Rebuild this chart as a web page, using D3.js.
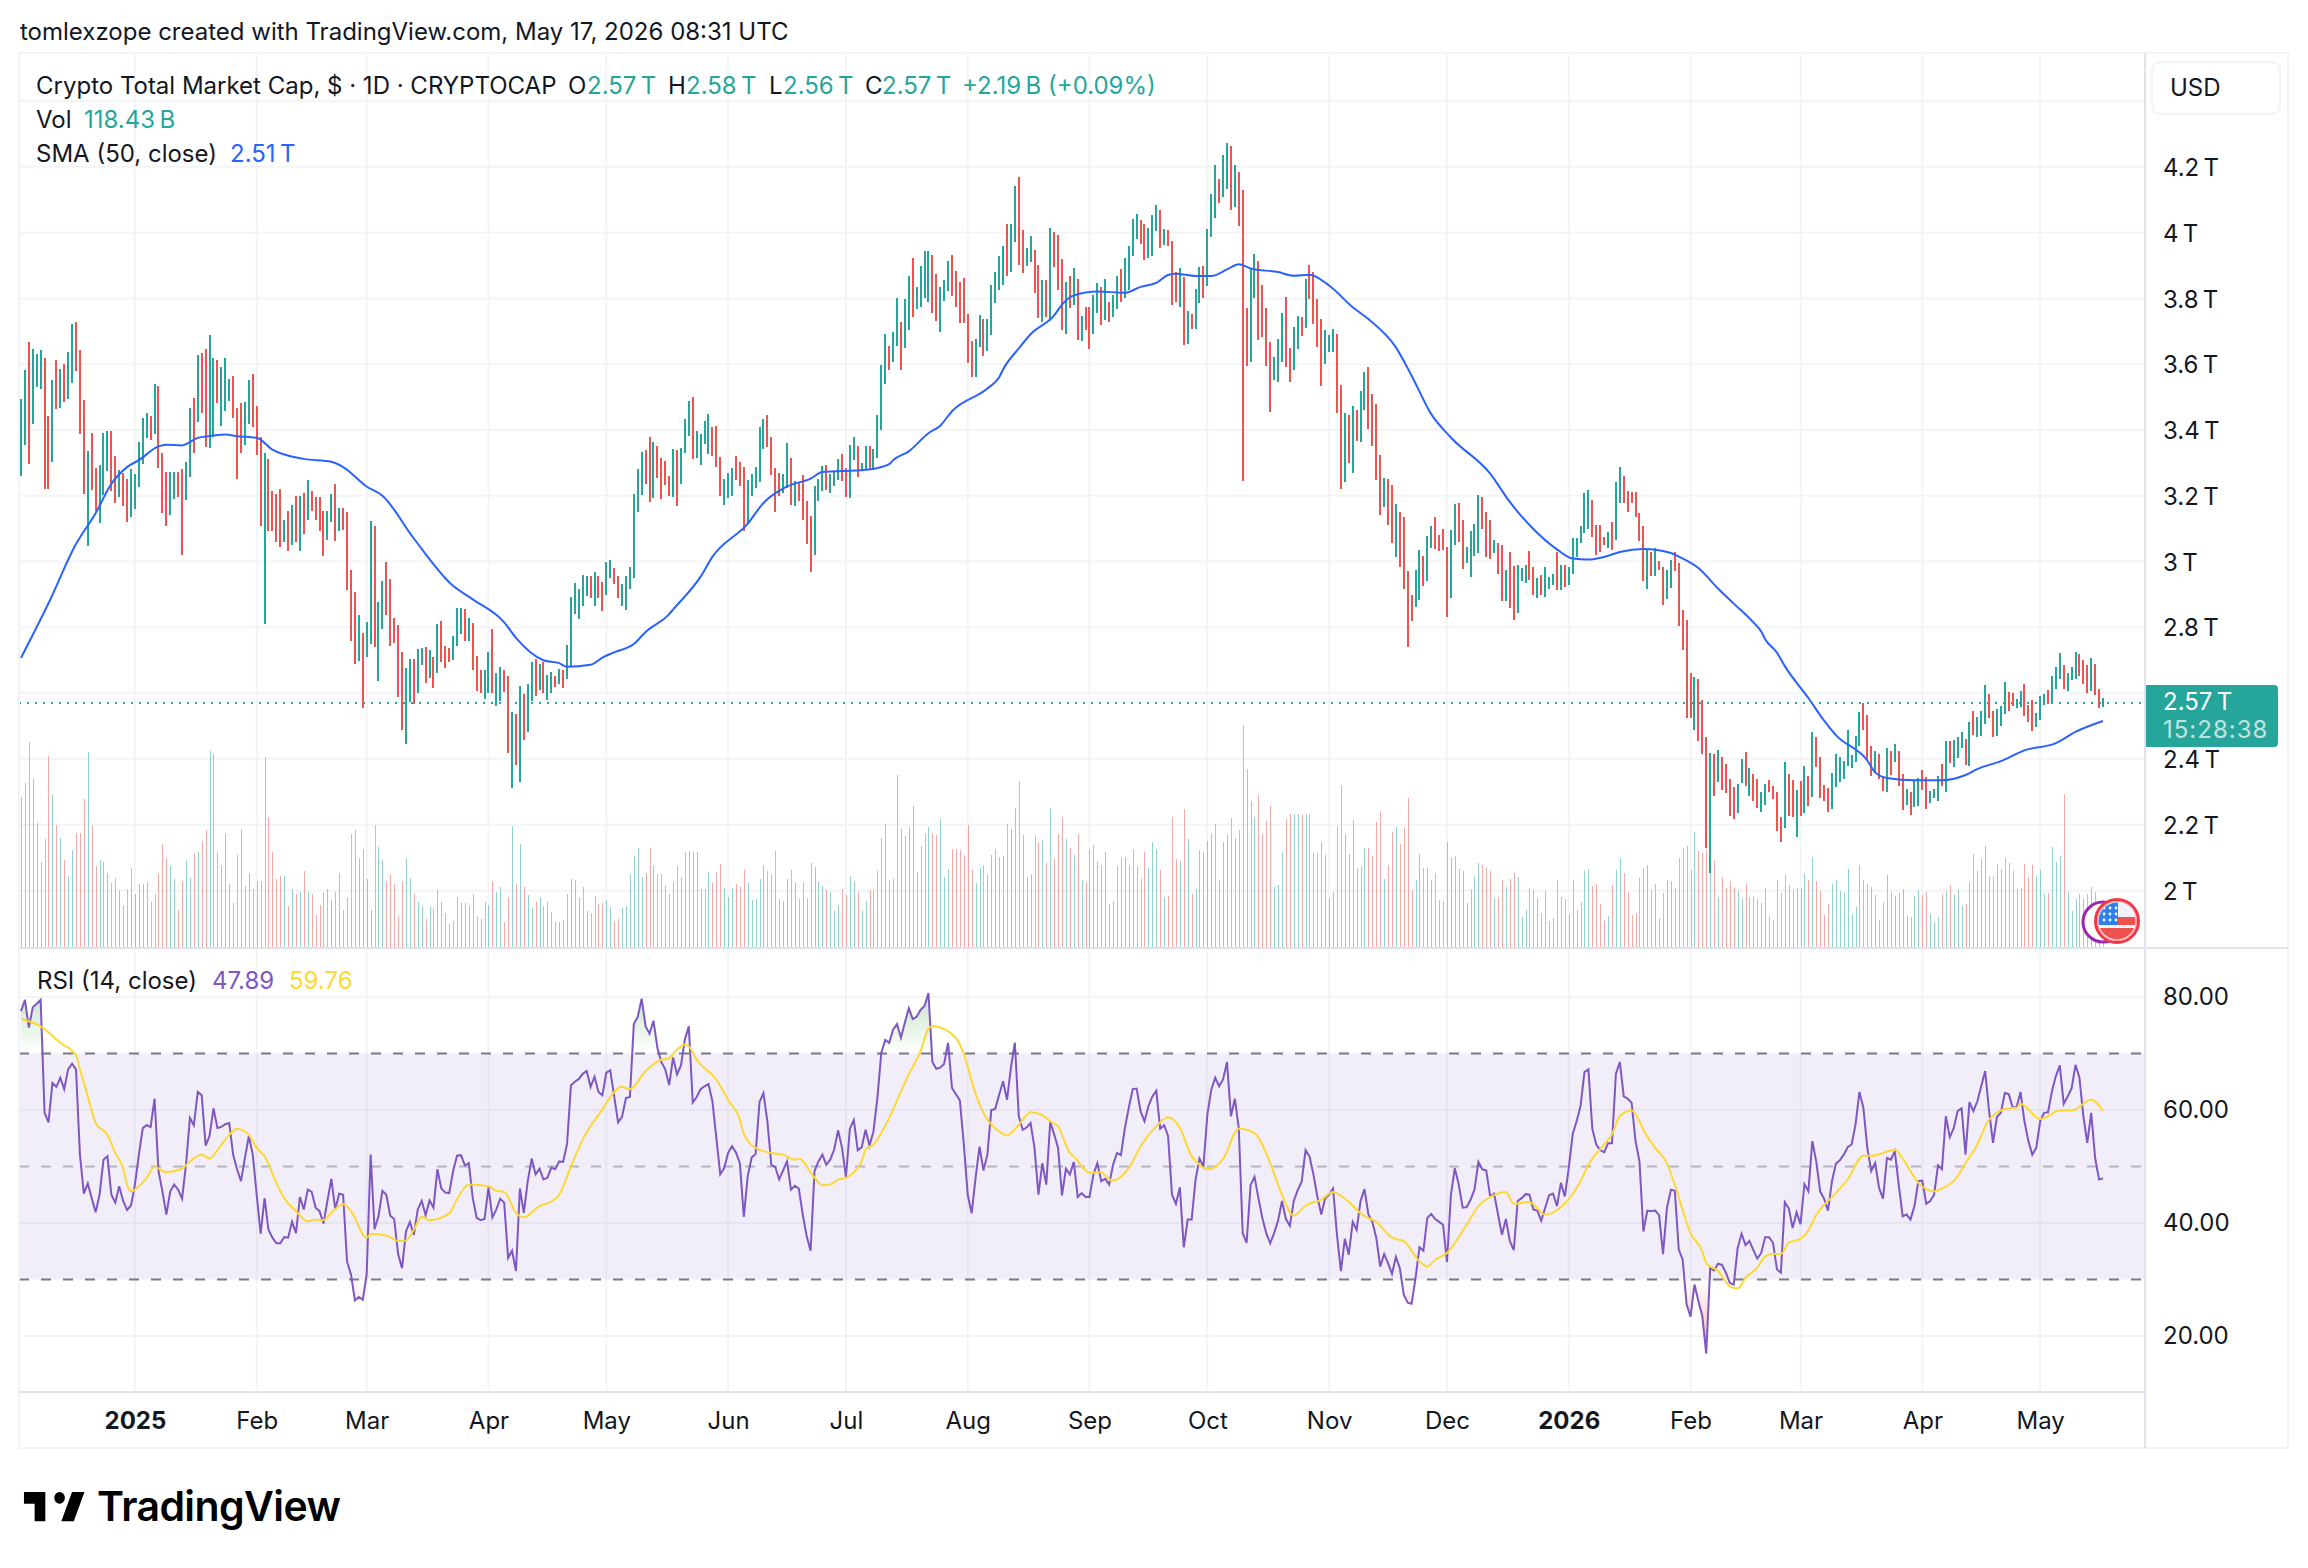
<!DOCTYPE html>
<html>
  <head>
    <meta charset="utf-8">
    <script src="https://d3js.org/d3.v7.min.js"></script>
    <title>Crypto Total Market Cap</title>
    <style>
      body { margin: 0px; background: #fff; }
      text { font-family: Inter, "Noto Sans", sans-serif; fill: #131722; }
    </style>
  </head>
  <body>
    <svg width="2308" height="1568"></svg>
    <script>
      // daily bars, first one is 2024-12-03, values in trillions
      const highs = [
        3.493,3.582,3.666,3.646,3.631,3.642,3.618,3.442,3.552,3.614,
        3.586,3.601,3.636,3.722,3.727,3.643,3.490,3.335,3.392,3.285,
        3.294,3.392,3.397,3.397,3.320,3.279,3.268,3.252,3.280,3.265,
        3.364,3.437,3.450,3.443,3.540,3.534,3.331,3.271,3.271,3.271,
        3.271,3.280,3.304,3.468,3.498,3.628,3.633,3.646,3.688,3.619,
        3.613,3.591,3.619,3.555,3.564,3.468,3.483,3.485,3.552,3.571,
        3.474,3.378,3.329,3.313,3.213,3.204,3.219,3.126,3.155,3.171,
        3.199,3.199,3.208,3.247,3.213,3.197,3.195,3.155,3.153,3.204,
        3.237,3.162,3.162,3.150,2.974,2.908,2.836,2.783,2.817,3.122,
        3.107,2.878,2.941,2.999,2.946,2.829,2.808,2.726,2.675,2.704,
        2.704,2.735,2.737,2.741,2.732,2.711,2.810,2.820,2.744,2.737,
        2.774,2.860,2.860,2.856,2.829,2.814,2.713,2.671,2.671,2.726,
        2.796,2.660,2.680,2.669,2.651,2.544,2.535,2.623,2.597,2.627,
        2.696,2.704,2.689,2.693,2.656,2.663,2.653,2.672,2.669,2.747,
        2.893,2.934,2.915,2.959,2.956,2.956,2.967,2.957,2.938,2.999,
        3.006,2.979,2.957,2.932,2.957,2.982,3.206,3.281,3.333,3.340,
        3.379,3.363,3.352,3.314,3.307,3.261,3.343,3.340,3.346,3.433,
        3.488,3.501,3.396,3.388,3.426,3.449,3.408,3.412,3.317,3.252,
        3.269,3.285,3.321,3.303,3.288,3.249,3.267,3.288,3.408,3.433,
        3.446,3.379,3.285,3.269,3.267,3.361,3.314,3.245,3.241,3.264,
        3.184,3.139,3.230,3.252,3.291,3.294,3.267,3.272,3.313,3.327,
        3.285,3.355,3.379,3.352,3.300,3.352,3.352,3.343,3.446,3.598,
        3.692,3.654,3.697,3.800,3.728,3.797,3.868,3.922,3.836,3.897,
        3.943,3.943,3.933,3.874,3.836,3.855,3.913,3.933,3.882,3.849,
        3.861,3.752,3.670,3.676,3.748,3.737,3.737,3.842,3.880,3.930,
        3.958,4.027,4.027,4.143,4.170,4.007,3.952,3.991,3.946,3.900,
        3.855,3.855,4.013,4.001,3.993,3.919,3.850,3.869,3.893,3.860,
        3.745,3.774,3.774,3.810,3.846,3.835,3.858,3.788,3.810,3.868,
        3.888,3.922,3.958,4.040,4.056,4.037,4.027,4.013,4.052,4.085,
        4.068,4.010,4.007,3.974,3.880,3.891,3.864,3.761,3.752,3.828,
        3.894,3.897,4.010,4.118,4.204,4.162,4.237,4.273,4.264,4.204,
        4.183,4.128,3.770,3.891,3.936,3.913,3.842,3.770,3.667,3.622,
        3.676,3.755,3.803,3.648,3.712,3.745,3.742,3.858,3.902,3.879,
        3.797,3.737,3.703,3.689,3.706,3.692,3.537,3.452,3.446,3.473,
        3.460,3.518,3.576,3.592,3.509,3.479,3.324,3.255,3.252,3.233,
        3.175,3.151,3.136,2.970,2.899,2.973,3.035,3.018,3.078,3.109,
        3.136,3.081,3.100,3.045,3.097,3.175,3.178,3.126,3.045,3.093,
        3.115,3.203,3.197,3.151,3.126,3.064,3.057,3.051,2.973,3.028,
        2.987,2.990,2.979,2.990,3.032,2.984,2.951,2.960,2.984,2.954,
        2.963,3.028,2.990,2.990,2.984,3.070,3.073,3.109,3.209,3.216,
        3.187,3.112,3.112,3.076,3.091,3.121,3.243,3.288,3.261,3.215,
        3.212,3.212,3.149,3.109,3.035,3.028,3.042,3.003,2.984,2.975,
        3.006,3.030,2.995,2.854,2.821,2.661,2.648,2.642,2.578,2.466,
        2.417,2.414,2.427,2.405,2.384,2.339,2.315,2.325,2.399,2.421,
        2.371,2.354,2.339,2.298,2.323,2.337,2.319,2.300,2.224,2.390,
        2.354,2.337,2.305,2.332,2.378,2.348,2.481,2.467,2.405,2.320,
        2.311,2.357,2.414,2.405,2.394,2.487,2.411,2.469,2.544,2.569,
        2.532,2.439,2.424,2.414,2.344,2.434,2.424,2.444,2.424,2.354,
        2.308,2.298,2.335,2.342,2.366,2.346,2.303,2.308,2.348,2.384,
        2.453,2.455,2.457,2.466,2.481,2.461,2.512,2.545,2.526,2.547,
        2.624,2.596,2.547,2.551,2.561,2.633,2.602,2.600,2.581,2.607,
        2.627,2.563,2.578,2.539,2.590,2.598,2.610,2.651,2.678,2.721,
        2.685,2.661,2.678,2.724,2.718,2.700,2.685,2.706,2.687,2.613,
        2.584
      ];
      const lows = [
        3.261,3.353,3.297,3.419,3.531,3.525,3.220,3.220,3.302,3.465,
        3.468,3.484,3.494,3.544,3.580,3.389,3.205,3.048,3.217,3.153,
        3.117,3.201,3.276,3.213,3.178,3.195,3.168,3.121,3.135,3.160,
        3.228,3.297,3.377,3.368,3.389,3.283,3.147,3.107,3.140,3.189,
        3.195,3.019,3.186,3.256,3.331,3.425,3.452,3.347,3.344,3.378,
        3.483,3.413,3.457,3.489,3.437,3.250,3.331,3.353,3.417,3.410,
        3.324,3.107,2.810,3.092,3.093,3.059,3.043,3.059,3.032,3.050,
        3.059,3.032,3.083,3.126,3.155,3.126,3.092,3.017,3.065,3.120,
        3.062,3.092,3.096,2.913,2.759,2.687,2.699,2.554,2.711,2.750,
        2.741,2.636,2.796,2.838,2.744,2.753,2.587,2.487,2.444,2.574,
        2.567,2.600,2.684,2.632,2.647,2.614,2.661,2.694,2.677,2.695,
        2.701,2.744,2.781,2.759,2.759,2.671,2.605,2.599,2.583,2.599,
        2.599,2.561,2.577,2.602,2.418,2.312,2.382,2.331,2.457,2.481,
        2.577,2.590,2.608,2.599,2.578,2.600,2.619,2.628,2.616,2.642,
        2.678,2.840,2.824,2.866,2.896,2.888,2.866,2.890,2.851,2.899,
        2.951,2.931,2.888,2.866,2.854,2.915,2.951,3.151,3.203,3.236,
        3.181,3.194,3.253,3.191,3.233,3.200,3.197,3.170,3.236,3.330,
        3.382,3.313,3.314,3.294,3.358,3.327,3.321,3.288,3.200,3.172,
        3.194,3.198,3.249,3.230,3.093,3.115,3.198,3.225,3.242,3.343,
        3.347,3.263,3.151,3.198,3.208,3.225,3.172,3.170,3.184,3.125,
        3.054,2.967,3.021,3.184,3.213,3.217,3.209,3.230,3.249,3.245,
        3.195,3.194,3.310,3.258,3.274,3.277,3.278,3.277,3.314,3.401,
        3.540,3.582,3.606,3.654,3.582,3.648,3.703,3.742,3.767,3.774,
        3.800,3.788,3.755,3.731,3.697,3.791,3.821,3.806,3.774,3.725,
        3.725,3.604,3.560,3.560,3.651,3.625,3.640,3.689,3.786,3.825,
        3.842,3.868,3.879,3.971,3.900,3.877,3.897,3.910,3.816,3.739,
        3.727,3.742,3.731,3.894,3.825,3.703,3.692,3.770,3.780,3.672,
        3.670,3.703,3.645,3.692,3.755,3.719,3.734,3.728,3.742,3.767,
        3.788,3.802,3.825,3.929,3.979,3.965,3.916,3.922,3.929,4.004,
        3.952,3.962,3.958,3.780,3.788,3.774,3.658,3.661,3.706,3.706,
        3.786,3.802,3.839,3.988,4.043,4.089,4.107,4.134,4.068,4.079,
        4.020,3.244,3.595,3.606,3.800,3.673,3.684,3.595,3.455,3.553,
        3.546,3.606,3.592,3.546,3.582,3.645,3.687,3.709,3.797,3.722,
        3.651,3.534,3.600,3.637,3.637,3.452,3.219,3.242,3.299,3.269,
        3.365,3.363,3.460,3.404,3.352,3.249,3.142,3.167,3.112,3.057,
        3.015,2.982,2.915,2.739,2.818,2.863,2.882,2.926,2.941,3.042,
        3.039,3.032,3.035,2.830,2.890,3.051,3.059,2.976,2.996,2.954,
        3.018,3.025,3.098,3.015,3.009,3.025,2.963,2.879,2.879,2.860,
        2.821,2.843,2.940,2.935,2.943,2.898,2.890,2.898,2.893,2.916,
        2.929,2.912,2.912,2.924,2.930,2.963,3.014,3.057,3.087,3.098,
        3.075,3.021,3.029,3.050,3.041,3.035,3.064,3.179,3.179,3.152,
        3.179,3.136,3.061,2.940,2.915,2.955,2.955,2.975,2.867,2.887,
        2.921,2.972,2.803,2.730,2.523,2.523,2.487,2.453,2.414,2.129,
        2.053,2.287,2.330,2.306,2.295,2.226,2.218,2.235,2.326,2.317,
        2.287,2.272,2.251,2.238,2.260,2.298,2.278,2.181,2.148,2.190,
        2.225,2.224,2.162,2.226,2.235,2.258,2.284,2.374,2.280,2.272,
        2.238,2.247,2.314,2.330,2.339,2.378,2.373,2.390,2.439,2.487,
        2.396,2.348,2.361,2.339,2.301,2.299,2.352,2.390,2.317,2.245,
        2.259,2.229,2.253,2.258,2.305,2.247,2.267,2.280,2.272,2.317,
        2.299,2.387,2.375,2.403,2.433,2.380,2.378,2.472,2.466,2.469,
        2.505,2.523,2.466,2.469,2.500,2.535,2.545,2.561,2.554,2.559,
        2.529,2.512,2.484,2.497,2.519,2.564,2.566,2.574,2.611,2.644,
        2.613,2.605,2.639,2.644,2.651,2.627,2.600,2.605,2.593,2.554,
        2.559
      ];
      // 1 closed up, 0 closed down
      const upDay = [
        1,1,0,1,1,1,0,0,1,0, 1,0,1,1,0,0,0,1,0,0, 1,1,1,0,0,1,0,0,1,1,
        1,1,1,0,1,0,0,0,1,1, 0,0,1,1,0,1,0,0,1,1, 0,1,1,1,0,0,0,1,1,0,
        0,0,1,0,0,0,0,1,0,1, 0,1,0,1,0,0,0,0,1,1, 0,1,0,0,0,0,1,0,1,1,
        0,1,1,0,0,0,0,0,1,1, 0,1,1,0,1,0,1,0,0,0, 1,1,1,0,1,0,0,0,1,1,
        0,1,1,0,0,1,0,1,0,1, 1,0,1,0,1,1,0,1,0,1, 1,1,1,1,1,0,1,0,0,1,
        1,0,0,1,1,1,1,1,1,0, 0,1,0,0,0,0,1,0,1,1, 1,0,1,1,1,1,0,0,0,1,
        1,1,0,0,0,1,1,1,1,1, 0,0,0,0,1,1,0,1,0,0, 0,0,1,1,1,0,1,1,1,0,
        0,1,1,0,1,1,0,1,1,1, 1,0,1,1,0,1,1,0,1,1, 1,1,0,0,1,1,1,0,0,0,
        0,0,0,1,1,0,1,1,1,1, 1,0,1,1,0,0,1,1,0,0, 1,0,1,0,0,0,1,0,1,0,
        1,0,0,1,1,0,1,0,1,1, 0,1,1,1,1,0,0,1,1,1, 0,1,0,0,0,1,0,1,0,1,
        1,0,1,1,1,0,1,1,0,1, 0,0,0,1,1,0,0,0,0,1, 1,1,0,0,1,1,0,1,0,0,
        0,0,1,1,1,0,0,1,0,1, 0,1,1,0,0,0,0,1,0,0, 1,0,0,0,0,1,1,0,1,1,
        0,0,0,0,1,1,0,0,1,1, 1,1,0,0,0,1,0,0,1,0, 0,1,1,1,0,0,1,0,1,1,
        1,0,1,0,1,1,1,1,1,1, 0,0,0,0,1,0,1,1,0,0, 0,0,0,0,1,0,1,0,0,1,
        1,0,0,0,0,0,1,0,0,0, 1,0,1,0,0,0,0,1,1,0, 1,0,0,1,1,0,0,0,0,1,
        0,0,1,0,1,0,1,0,0,0, 0,1,1,1,1,1,1,1,1,0, 0,0,1,0,0,1,0,1,0,0,
        1,0,1,1,0,0,1,1,1,0, 1,0,1,1,1,0,1,0,1,1, 1,0,0,1,1,1,0,0,1,1,
        0,0,0,1,1,1,0,1,1,1, 0,1,1,1,0,0,0,1,0,0, 1
      ];
      // billions
      const volumes = [
        303,331,413,339,251,173,218,385,307,247,
        221,176,144,196,231,231,299,393,247,165,
        176,172,150,131,141,116,86,119,160,109,
        129,129,132,93,109,151,209,180,165,139,
        77,134,177,141,189,192,214,237,395,389,
        193,167,231,128,90,186,239,125,150,119,
        135,135,383,263,192,138,145,145,84,118,
        109,113,154,112,109,66,86,112,118,96,
        112,151,76,102,228,237,180,199,138,77,
        247,203,176,134,148,128,64,135,180,141,
        109,93,84,58,84,80,116,93,71,48,
        55,102,90,90,84,108,64,58,93,87,
        135,113,123,52,103,245,128,209,123,106,
        81,92,102,84,92,73,52,52,56,108,
        138,136,102,122,75,70,105,88,90,96,
        82,54,58,81,84,148,184,201,142,150,
        201,166,148,148,126,108,133,164,142,192,
        194,192,192,119,118,152,131,153,169,120,
        102,121,128,123,156,130,96,98,139,166,
        154,148,194,98,95,139,156,130,98,132,
        100,171,162,133,125,116,112,75,87,118,
        107,144,134,112,74,95,116,114,154,220,
        248,137,139,346,241,224,242,284,153,204,
        231,243,231,227,258,142,158,199,199,197,
        185,246,156,130,160,167,149,186,199,182,
        185,248,239,280,334,227,142,148,225,212,
        216,170,280,178,228,263,218,201,186,228,
        136,132,198,206,174,167,192,88,94,164,
        180,182,166,198,164,139,192,160,212,198,
        156,103,105,263,178,174,278,218,109,119,
        196,192,215,231,248,136,212,228,261,220,
        236,446,359,295,263,306,228,254,284,123,
        127,192,258,268,268,268,268,268,268,190,
        190,212,186,100,112,242,326,228,188,256,
        160,164,201,201,185,252,272,139,166,233,
        242,208,240,300,116,137,188,160,160,136,
        150,96,94,212,182,184,158,155,90,119,
        144,171,166,160,155,100,102,137,123,139,
        150,143,62,77,120,117,100,70,114,55,
        60,136,102,99,69,137,77,92,155,158,
        124,128,89,56,64,126,156,180,150,112,
        66,70,140,160,167,116,128,61,110,137,
        134,120,180,200,204,156,232,195,190,199,
        184,176,102,142,120,134,120,115,98,129,
        102,104,99,91,121,64,57,136,110,146,
        126,117,120,120,150,137,182,134,115,66,
        88,128,137,115,110,158,68,82,167,137,
        129,123,106,57,92,146,112,104,110,118,
        64,62,104,116,106,112,68,53,62,109,
        115,126,106,116,84,88,130,189,154,178,
        204,144,144,168,158,180,171,154,118,120,
        168,143,166,144,156,108,110,202,172,184,
        308,112,74,98,108,101,108,122,112,60,
        92
      ];
      const rsi = [
        77.5,79.5,74.6,78.2,78.8,79.5,59.5,57.8,64.8,64.1,
        65.7,63.7,67.2,68.2,67.2,52.1,45.2,47.0,44.4,41.9,
        45.0,51.2,51.8,45.0,43.6,46.5,43.9,42.3,43.1,46.8,
        52.1,56.8,57.3,57.0,62.0,49.2,45.6,41.5,45.6,46.8,
        45.9,44.3,50.3,58.6,57.3,63.2,62.6,53.7,55.4,60.3,
        56.8,57.0,57.5,57.7,52.1,49.5,47.4,51.5,55.4,52.1,
        45.0,38.1,44.4,38.8,37.4,36.4,36.4,37.5,37.4,40.2,
        38.2,44.6,42.4,45.9,45.5,42.7,42.1,39.9,43.9,47.8,
        42.4,45.2,45.0,33.2,30.9,26.3,26.9,26.4,30.9,52.1,
        38.9,41.2,45.7,45.0,41.3,40.7,34.5,32.0,38.5,40.2,
        37.9,42.4,43.9,41.4,44.0,42.7,49.5,46.1,45.4,45.3,
        49.2,51.9,52.0,50.2,50.6,44.4,40.9,40.5,40.7,46.3,
        41.0,42.4,44.3,43.6,33.8,35.1,31.5,46.1,41.8,47.4,
        51.4,48.6,49.6,47.7,48.0,49.8,49.5,50.9,50.8,54.0,
        64.4,65.0,65.5,66.4,66.9,64.1,65.9,63.2,62.6,66.6,
        67.0,62.4,57.8,58.8,62.1,62.3,75.2,76.5,79.7,74.8,
        73.5,75.8,71.0,68.5,67.2,64.4,69.3,66.3,67.9,72.5,
        74.8,61.3,62.3,63.7,64.2,64.6,61.6,55.1,48.6,49.7,
        52.4,53.6,52.5,50.6,41.1,48.3,51.6,52.2,61.4,63.0,
        58.0,50.3,49.9,47.7,49.3,50.9,45.9,46.6,46.1,41.5,
        37.7,35.1,49.2,50.9,52.1,50.3,51.2,53.0,56.4,53.3,
        48.1,56.7,58.2,52.9,53.4,56.5,53.7,56.2,62.1,70.1,
        72.4,71.9,74.2,75.2,72.8,75.5,78.0,76.1,76.5,77.7,
        78.4,80.7,68.5,67.3,67.5,68.2,71.9,63.9,62.8,61.7,
        54.0,45.0,41.7,48.0,53.5,49.3,52.1,60.0,60.2,62.7,
        65.1,61.8,67.5,71.9,58.9,56.5,56.9,57.7,53.3,45.0,
        50.6,46.8,57.9,55.7,53.3,44.9,49.6,48.6,50.8,44.6,
        45.3,44.6,44.6,48.6,50.6,47.4,47.8,46.8,50.3,52.4,
        52.0,56.8,60.4,63.7,63.8,59.8,58.0,60.7,62.4,63.4,
        56.7,57.3,55.4,45.0,43.4,46.3,35.7,40.6,40.6,47.7,
        51.4,50.0,59.2,63.6,65.7,64.2,65.4,68.5,58.9,62.0,
        56.8,38.2,36.5,46.7,48.2,44.4,40.9,38.2,36.4,38.2,
        40.4,43.9,40.7,39.5,43.9,45.8,47.3,52.9,51.8,48.6,
        44.7,41.5,44.4,45.0,46.1,37.9,31.5,37.2,34.4,40.2,
        38.8,43.9,46.0,41.5,40.2,37.4,32.3,34.5,32.9,31.0,
        34.0,32.0,27.3,25.9,25.7,30.3,35.7,35.1,40.9,41.6,
        40.7,40.2,39.7,33.1,45.0,49.7,46.8,42.7,42.8,44.1,
        45.9,50.8,49.5,49.3,44.7,45.2,41.5,37.9,40.7,36.8,
        35.2,43.9,44.4,45.1,45.0,42.4,42.2,40.4,42.7,44.9,
        45.2,43.0,47.1,44.7,49.7,55.7,58.0,60.7,66.7,67.2,
        56.7,53.9,52.9,52.5,54.1,54.1,66.4,68.5,62.4,62.0,
        61.3,54.5,50.9,38.5,42.2,42.1,42.2,41.4,34.5,42.7,
        45.9,45.7,35.3,33.5,25.6,23.4,29.1,26.2,23.5,16.9,
        32.0,31.6,32.8,32.6,31.2,29.4,29.1,35.6,38.1,36.1,
        36.8,35.2,33.7,34.7,37.5,37.5,36.5,31.8,31.2,43.7,
        42.6,39.1,41.9,39.8,46.9,45.6,54.5,50.9,45.6,44.3,
        42.2,47.4,50.5,51.1,52.1,53.4,53.9,57.4,63.2,60.4,
        53.3,49.2,50.6,46.2,44.3,51.5,51.2,52.7,46.8,41.2,
        41.5,40.6,43.0,47.4,47.5,43.4,43.9,45.0,50.2,49.5,
        58.9,55.2,56.8,59.8,60.3,52.1,61.4,59.8,61.5,64.2,
        66.9,59.8,54.2,58.8,59.5,63.0,62.8,60.5,60.5,63.2,
        58.0,54.5,52.1,53.3,58.0,59.5,59.6,63.3,66.0,67.9,
        61.1,62.4,63.8,68.0,65.7,58.9,54.2,59.5,51.5,47.7,
        47.9
      ];
      // the smooth lines were only read at their bends: bar number, then value
      const smaBar = [0,7,14,19,23,27,30,35,37,41,45,49,52,55,60,64,72,79,82,88,92,100,110,115,123,126,133,
        137,139,145,148,151,156,159,165,166,173,176,185,189,195,201,204,209,216,221,222,226,231,234,237,246,249,250,254,257,263,265,268,
        274,281,285,289,292,294,299,303,307,310,313,320,324,328,333,339,343,350,354,359,364,374,379,384,391,395,399,403,
        407,413,420,422,427,432,436,441,443,444,447,449,455,459,462,470,472,475,482,489,495,498,504,510,518,523,530];
      const sma = [2.707,2.873,3.053,3.147,3.236,3.287,3.308,3.350,3.355,3.353,3.376,3.383,3.386,3.381,3.376,3.340,3.312,3.303,3.287,3.228,3.200,3.070,2.926,2.885,2.815,2.768,2.700,
        2.691,2.680,2.686,2.708,2.724,2.749,2.786,2.840,2.854,2.954,3.014,3.115,3.178,3.228,3.252,3.272,3.275,3.280,3.296,3.308,3.335,3.390,3.413,3.457,3.526,3.560,3.584,3.648,3.691,3.748,3.781,3.809,
        3.821,3.817,3.835,3.847,3.871,3.875,3.868,3.868,3.888,3.904,3.891,3.880,3.869,3.872,3.839,3.773,3.737,3.651,3.565,3.448,3.377,3.267,3.181,3.111,3.037,3.009,3.006,3.014,
        3.029,3.038,3.026,3.015,2.980,2.918,2.872,2.815,2.787,2.764,2.723,2.682,2.585,2.516,2.472,2.395,2.359,2.342,2.335,2.335,2.351,2.369,2.393,2.426,2.448,2.482,2.515];
      const rsiMaBar = [0,5,10,14,15,17,19,22,24,26,27,28,30,32,34,37,41,43,46,48,50,53,55,58,60,62,65,67,70,73,75,77,79,82,84,88,89,93,96,98,100,102,104,109,111,114,119,121,123,126,128,132,
        135,137,140,143,148,151,153,155,159,163,165,166,169,170,172,177,180,183,184,187,191,194,197,198,202,204,206,208,210,214,215,217,221,224,226,229,231,232,236,239,241,242,245,249,251,254,257,260,262,264,267,268,
        272,275,277,278,280,282,285,289,292,295,298,300,302,306,310,314,315,318,321,324,327,331,334,337,342,345,349,352,356,358,360,363,368,371,374,378,380,384,388,392,397,399,403,
        405,407,410,412,413,416,419,421,425,428,429,432,435,437,439,442,444,446,448,450,453,455,457,462,465,469,471,477,479,483,487,489,492,495,498,501,506,508,509,514,519,522,527,530];
      const rsiMa = [76.1,74.8,71.9,69.7,67.2,62.4,57.7,55.6,52.4,49.7,46.8,45.6,46.5,48.0,49.9,49.0,49.6,50.9,52.1,51.4,52.9,55.6,56.7,55.6,53.3,51.8,47.1,44.4,42.1,40.3,40.6,40.5,41.8,43.3,42.1,37.4,38.1,37.8,36.8,36.9,38.8,41.1,40.5,41.7,44.2,46.8,46.5,45.7,45.5,41.8,41.0,43.0,
        43.8,45.0,50.0,54.8,60.1,63.2,64.1,63.7,66.9,68.9,69.1,69.9,71.6,71.3,68.9,65.4,61.8,58.3,55.8,53.3,52.4,52.1,51.2,51.4,48.0,46.7,46.8,47.7,48.0,50.9,53.0,53.9,58.6,63.3,66.3,70.4,74.4,74.8,73.9,71.6,67.7,65.1,59.5,56.2,55.5,57.4,59.6,59.1,58.0,57.1,52.4,51.8,
        48.9,49.0,47.7,47.5,48.2,49.7,53.6,57.1,58.7,56.8,51.8,50.3,49.5,51.3,56.7,55.9,55.1,50.6,45.0,41.3,43.1,44.1,45.5,44.3,41.2,40.2,37.4,36.8,33.2,32.3,33.5,34.7,39.7,43.0,44.6,45.5,43.4,43.7,41.5,42.8,47.4,50.3,53.9,
        55.7,58.9,59.9,58.0,56.5,53.3,50.6,46.8,38.2,35.0,32.9,31.5,28.8,28.4,30.3,32.1,34.1,34.5,34.5,36.5,37.2,38.7,41.4,45.3,47.7,51.9,51.9,52.9,51.4,47.1,45.6,46.1,47.4,50.6,53.9,58.3,60.3,60.4,61.1,58.4,59.9,59.9,61.8,59.8];

      // 2.6 T sits behind the last price tag, so it gets a grid line but no label
      const priceTicks = [2,2.2,2.4,2.8,3,3.2,3.4,3.6,3.8,4,4.2];
      const priceGridTicks = [2,2.2,2.4,2.6,2.8,3,3.2,3.4,3.6,3.8,4,4.2,4.4];
      const rsiTicks = [20,40,60,80];
      const timeTicks = ['2025-01-01','2025-02-01','2025-03-01','2025-04-01','2025-05-01','2025-06-01','2025-07-01','2025-08-01','2025-09-01','2025-10-01','2025-11-01','2025-12-01','2026-01-01','2026-02-01','2026-03-01','2026-04-01','2026-05-01'];
      const timeLabels = ['2025','Feb','Mar','Apr','May','Jun','Jul','Aug','Sep','Oct','Nov','Dec','2026','Feb','Mar','Apr','May'];
      const lastPrice = 2.57;

      const upColor = '#26a69a';
      const downColor = '#ef5350';
      const gridColor = '#f3f4f6';
      const lineColor = '#e0e3eb';
      const thin = '\u2009';

      const paneLeft = 19, paneRight = 2145, outerRight = 2288, paneTop = 53;
      const priceBottom = 948, rsiBottom = 1392, timeBottom = 1448;

      const svg = d3.select('svg');
      const parseDay = d3.utcParse('%Y-%m-%d');
      const firstDay = parseDay('2024-12-03');
      const dayOf = i => d3.utcDay.offset(firstDay, i);

      const x = d3.scaleUtc().domain([firstDay, dayOf(530)]).range([21, 2103]);
      const yPrice = d3.scaleLinear().domain([1.825, 4.546]).range([priceBottom, paneTop]);
      const yVol = d3.scaleLinear().domain([0, 600]).range([priceBottom, priceBottom - 300]);
      const yRsi = d3.scaleLinear().domain([10.09, 88.67]).range([rsiBottom, priceBottom]);
      const tickDates = timeTicks.map(parseDay);

      // grid
      const grid = svg.append('g').attr('stroke', gridColor).attr('stroke-width', 2);
      grid.selectAll('.v').data(tickDates).enter().append('line')
        .attr('x1', d => x(d)).attr('x2', d => x(d))
        .attr('y1', paneTop).attr('y2', rsiBottom);
      grid.selectAll('.p').data(priceGridTicks).enter().append('line')
        .attr('x1', paneLeft).attr('x2', paneRight)
        .attr('y1', d => yPrice(d)).attr('y2', d => yPrice(d));
      grid.selectAll('.r').data(rsiTicks).enter().append('line')
        .attr('x1', paneLeft).attr('x2', paneRight)
        .attr('y1', d => yRsi(d)).attr('y2', d => yRsi(d));

      // volume, under the price bars
      svg.append('g').attr('shape-rendering', 'crispEdges')
        .selectAll('rect').data(volumes).enter().append('rect')
        .attr('x', (d, i) => Math.round(x(dayOf(i))))
        .attr('width', 1)
        .attr('y', d => yVol(d))
        .attr('height', d => priceBottom - yVol(d))
        .attr('fill', (d, i) => upDay[i] ? upColor : downColor)
        .attr('opacity', 0.5);

      // dotted last price line
      svg.append('line')
        .attr('x1', paneLeft).attr('x2', paneRight)
        .attr('y1', Math.round(yPrice(lastPrice))).attr('y2', Math.round(yPrice(lastPrice)))
        .attr('stroke', upColor).attr('stroke-width', 2)
        .attr('shape-rendering', 'crispEdges')
        .attr('stroke-dasharray', '2 6');

      // price bars
      svg.append('g').attr('shape-rendering', 'crispEdges')
        .selectAll('rect').data(highs).enter().append('rect')
        .attr('x', (d, i) => Math.round(x(dayOf(i))) - 1)
        .attr('width', 2)
        .attr('y', d => yPrice(d))
        .attr('height', (d, i) => yPrice(lows[i]) - yPrice(d))
        .attr('fill', (d, i) => upDay[i] ? upColor : downColor);

      const smaLine = d3.line()
        .x((d, i) => x(dayOf(smaBar[i])))
        .y(d => yPrice(d))
        .curve(d3.curveMonotoneX);
      svg.append('path').attr('d', smaLine(sma))
        .attr('fill', 'none').attr('stroke', '#2962ff').attr('stroke-width', 2);

      // rsi pane
      svg.append('rect')
        .attr('x', paneLeft).attr('width', paneRight - paneLeft)
        .attr('y', yRsi(70)).attr('height', yRsi(30) - yRsi(70))
        .attr('fill', '#7e57c2').attr('opacity', 0.1);

      const defs = svg.append('defs');
      const fade = (id, color, from, to) => {
        const g = defs.append('linearGradient').attr('id', id)
          .attr('gradientUnits', 'userSpaceOnUse')
          .attr('x1', 0).attr('x2', 0).attr('y1', yRsi(from)).attr('y2', yRsi(to));
        g.append('stop').attr('offset', 0).attr('stop-color', color).attr('stop-opacity', 0.3);
        g.append('stop').attr('offset', 1).attr('stop-color', color).attr('stop-opacity', 0);
      };
      fade('overbought', '#4caf50', 80, 70);
      fade('oversold', '#f23645', 20, 30);
      const rsiArea = limit => d3.area()
        .x((d, i) => x(dayOf(i)))
        .y0(yRsi(limit))
        .y1(d => yRsi(limit === 70 ? Math.max(d, 70) : Math.min(d, 30)));
      svg.append('path').attr('d', rsiArea(70)(rsi)).attr('fill', 'url(#overbought)');
      svg.append('path').attr('d', rsiArea(30)(rsi)).attr('fill', 'url(#oversold)');

      [[70, 1], [50, 0.5], [30, 1]].forEach(([level, alpha]) => {
        svg.append('line')
          .attr('x1', paneLeft).attr('x2', paneRight)
          .attr('y1', yRsi(level)).attr('y2', yRsi(level))
          .attr('stroke', '#787b86').attr('stroke-width', 2)
          .attr('stroke-opacity', alpha)
          .attr('stroke-dasharray', '10 12');
      });

      const rsiLine = d3.line().x((d, i) => x(dayOf(i))).y(d => yRsi(d));
      svg.append('path').attr('d', rsiLine(rsi))
        .attr('fill', 'none').attr('stroke', '#7e57c2').attr('stroke-width', 2);
      const maLine = d3.line()
        .x((d, i) => x(dayOf(rsiMaBar[i])))
        .y(d => yRsi(d))
        .curve(d3.curveMonotoneX);
      svg.append('path').attr('d', maLine(rsiMa))
        .attr('fill', 'none').attr('stroke', '#fdd835').attr('stroke-width', 2);

      // frame
      svg.append('rect')
        .attr('x', paneLeft).attr('y', paneTop)
        .attr('width', outerRight - paneLeft).attr('height', timeBottom - paneTop)
        .attr('fill', 'none').attr('stroke', '#f0f3fa').attr('stroke-width', 2);
      const rule = (x1, x2, y1, y2) => svg.append('line')
        .attr('x1', x1).attr('x2', x2).attr('y1', y1).attr('y2', y2)
        .attr('stroke', lineColor).attr('stroke-width', 2);
      rule(paneLeft, outerRight, priceBottom, priceBottom);
      rule(paneLeft, paneRight, rsiBottom, rsiBottom);
      rule(paneRight, paneRight, paneTop, timeBottom);

      // axes
      const priceAxis = d3.axisRight(yPrice)
        .tickValues(priceTicks)
        .tickSize(0).tickPadding(18)
        .tickFormat(d => d3.format('.2~f')(d) + thin + 'T');
      const rsiAxis = d3.axisRight(yRsi)
        .tickValues(rsiTicks)
        .tickSize(0).tickPadding(18)
        .tickFormat(d3.format('.2f'));
      const timeAxis = d3.axisBottom(x)
        .tickValues(tickDates)
        .tickSize(0).tickPadding(20)
        .tickFormat((d, i) => timeLabels[i]);

      const styleAxis = g => {
        g.select('.domain').remove();
        g.selectAll('text').attr('font-size', 24).style('font-family', 'Inter');
      };
      svg.append('g').attr('transform', `translate(${paneRight},1)`).call(priceAxis).call(styleAxis);
      svg.append('g').attr('transform', `translate(${paneRight},0)`).call(rsiAxis).call(styleAxis);
      svg.append('g').attr('transform', `translate(0,${rsiBottom})`).call(timeAxis).call(styleAxis)
        .selectAll('text').attr('font-weight', (d, i) => timeLabels[i].length == 4 ? 700 : 400);

      // last price tag
      svg.append('path')
        .attr('d', 'M2146 685H2274a4 4 0 0 1 4 4V743a4 4 0 0 1 -4 4H2146Z')
        .attr('fill', upColor);
      svg.append('text').attr('x', 2163).attr('y', 710).attr('font-size', 24)
        .style('fill', '#fff').text('2.57' + thin + 'T');
      svg.append('text').attr('x', 2163).attr('y', 738).attr('font-size', 24)
        .attr('letter-spacing', 1)
        .style('fill', '#fff').attr('opacity', 0.7).text('15:28:38');

      // USD button
      svg.append('rect').attr('x', 2152).attr('y', 62).attr('width', 128).attr('height', 52)
        .attr('rx', 8).attr('fill', '#fff').attr('stroke', '#f0f3fa').attr('stroke-width', 2);
      svg.append('text').attr('x', 2170).attr('y', 96).attr('font-size', 24).text('USD');

      // legend texts
      const label = (tx, ty, str, color) => svg.append('text')
        .attr('x', tx).attr('y', ty).attr('font-size', 24)
        .style('fill', color || '#131722').text(str);
      label(20, 40, 'tomlexzope created with TradingView.com, May 17, 2026 08:31 UTC');
      label(36, 94, 'Crypto Total Market Cap, $ · 1D · CRYPTOCAP');
      label(568, 94, 'O'); label(587, 94, '2.57' + thin + 'T', upColor);
      label(668, 94, 'H'); label(686, 94, '2.58' + thin + 'T', upColor);
      label(769, 94, 'L'); label(783, 94, '2.56' + thin + 'T', upColor);
      label(865, 94, 'C'); label(882, 94, '2.57' + thin + 'T', upColor);
      label(962, 94, '+2.19' + thin + 'B (+0.09%)', upColor);
      label(36, 128, 'Vol'); label(84, 128, '118.43' + thin + 'B', upColor);
      label(36, 162, 'SMA (50, close)'); label(230, 162, '2.51' + thin + 'T', '#2962ff');
      label(37, 989, 'RSI (14, close)'); label(212, 989, '47.89', '#7e57c2'); label(289, 989, '59.76', '#fdd835');

      // flag badge
      const badge = svg.append('g');
      badge.append('circle').attr('cx', 2103).attr('cy', 922).attr('r', 20)
        .attr('fill', '#fff').attr('stroke', '#9c27b0').attr('stroke-width', 3);
      badge.append('circle').attr('cx', 2117).attr('cy', 921).attr('r', 21.5)
        .attr('fill', '#fff').attr('stroke', '#f23645').attr('stroke-width', 3);
      badge.append('circle').attr('cx', 2117).attr('cy', 921).attr('r', 19.5)
        .attr('fill', 'none').attr('stroke', '#f23645').attr('stroke-opacity', 0.5);
      defs.append('clipPath').attr('id', 'flag').append('circle')
        .attr('cx', 2117).attr('cy', 921).attr('r', 18.5);
      const flag = badge.append('g').attr('clip-path', 'url(#flag)');
      flag.append('rect').attr('x', 2098).attr('y', 902).attr('width', 38).attr('height', 38).attr('fill', '#f0f3fa');
      flag.append('rect').attr('x', 2118).attr('y', 917).attr('width', 18).attr('height', 8).attr('fill', '#ef5350');
      flag.append('rect').attr('x', 2098).attr('y', 928).attr('width', 38).attr('height', 12).attr('fill', '#ef5350');
      flag.append('rect').attr('x', 2098).attr('y', 902).attr('width', 20).attr('height', 23).attr('fill', '#2f80ed');
      [908, 914, 920].forEach(sy => [2104, 2110, 2116].forEach(sx => {
        flag.append('circle').attr('cx', sx).attr('cy', sy).attr('r', 1.4).attr('fill', '#fff');
      }));

      // tradingview mark
      svg.append('path')
        .attr('d', 'M14 6H2v6h6v9h6V6zm16 15h-7l6-15h7l-6 15zm-8-9a3 3 0 1 0 0-6 3 3 0 0 0 0 6z')
        .attr('transform', 'translate(20.4,1480.3) scale(1.78,1.95)')
        .attr('fill', '#000');
      svg.append('text').attr('x', 97).attr('y', 1521).attr('font-size', 41)
        .attr('font-weight', 600).style('fill', '#000').attr('letter-spacing', -0.6).text('TradingView');
    </script>
  </body>
</html>
